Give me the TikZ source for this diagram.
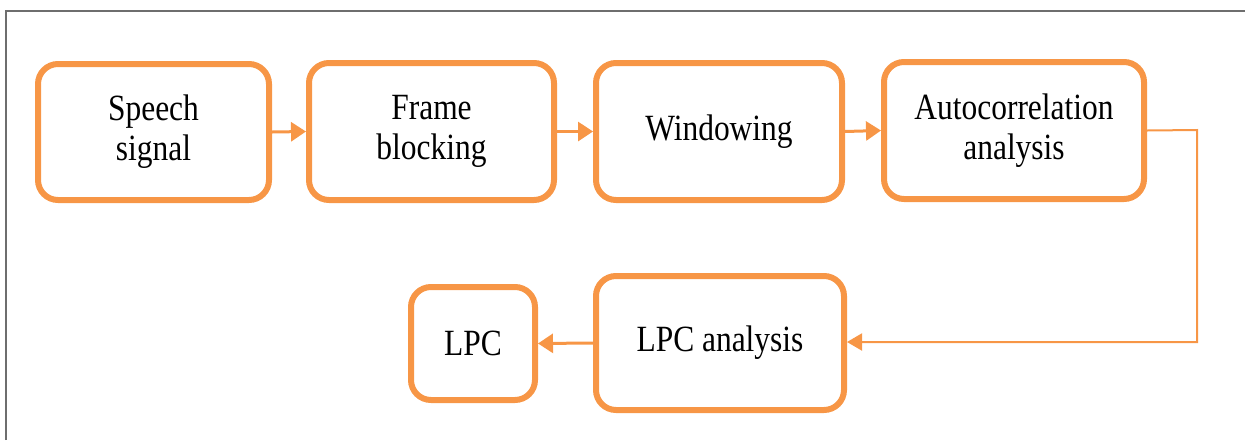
\documentclass[tikz,border=0pt]{standalone}
\usepackage{fontspec}
\setmainfont{Liberation Serif}[FakeStretch=0.85]
\usetikzlibrary{arrows.meta}
\definecolor{boxorange}{HTML}{F79646}
\definecolor{framegray}{HTML}{6E6E6E}
\tikzset{
  stage/.style={draw=boxorange, line width=6pt, rounded corners=20pt,
    align=center, inner sep=0pt, font=\fontsize{37}{40}\selectfont},
  link/.style={draw=boxorange, line width=3pt,
    -{Triangle[length=15pt,width=19pt]}},
  feedback/.style={draw=boxorange, line width=2pt,
    -{Triangle[length=15pt,width=17pt]}},
}
\begin{document}
\begin{tikzpicture}[x=1pt, y=-1pt]
  \useasboundingbox (0,0) rectangle (1245,440);
  % partial outer frame
  \draw[framegray, line width=2pt] (6,440) -- (6,11) -- (1245,11);

  % top row of processing stages
  \node[stage, minimum width=231pt, minimum height=136pt] (speech) at (153.5,132) {Speech\\signal};
  \node[stage, minimum width=245pt, minimum height=137pt] (frame) at (431.5,131.5) {Frame\\blocking};
  \node[stage, minimum width=246pt, minimum height=137pt] (window) at (719,131.5) {Windowing};
  \node[stage, minimum width=260pt, minimum height=137pt] (autocorr) at (1014,130.5) {Autocorrelation\\analysis};

  % bottom row
  \node[stage, minimum width=248pt, minimum height=134pt] (lpcan) at (720,343) {LPC analysis};
  \node[stage, minimum width=124pt, minimum height=113pt] (lpc) at (473,343.5) {LPC};

  \coordinate (turnA) at (1197,130);
  \coordinate (turnB) at (1197,342);

  % connectors
  \draw[link] (speech.east) -- (frame.west);
  \draw[link] (frame.east) -- (window.west);
  \draw[link] (window.east) -- (autocorr.west);
  \draw[feedback] (autocorr.east) -- (turnA) -- (turnB) -- (lpcan.east |- turnB);
  \draw[link] (lpcan.west) -- (lpc.east);
\end{tikzpicture}
\end{document}
